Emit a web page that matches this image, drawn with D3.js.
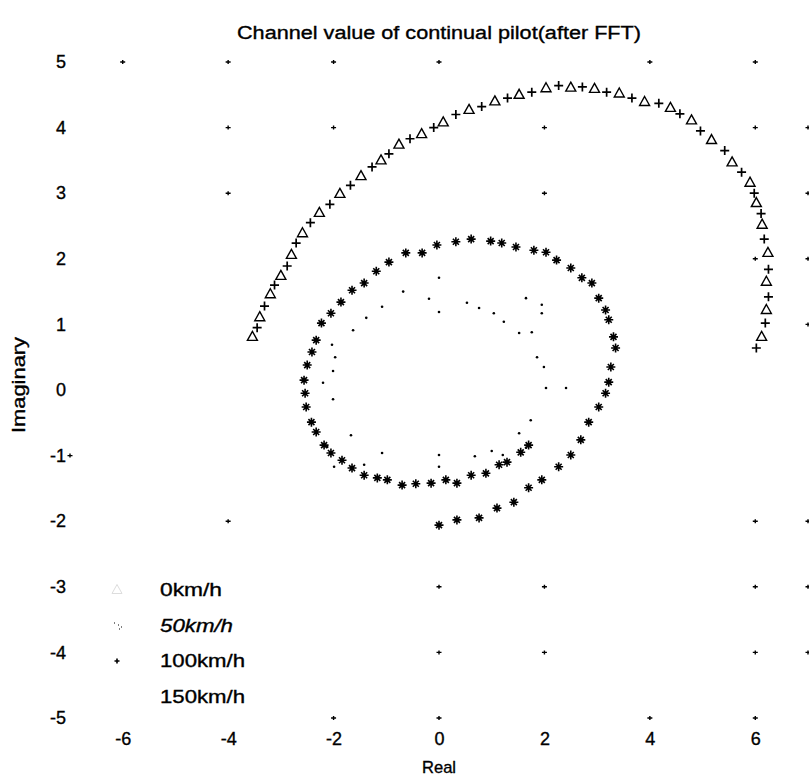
<!DOCTYPE html>
<html><head><meta charset="utf-8">
<script src="https://cdn.jsdelivr.net/npm/d3@7"></script>
<style>
body{margin:0;background:#fff;}
svg text{font-family:"Liberation Sans",Arial,sans-serif;fill:#000;stroke:#000;stroke-width:0.35px;}
</style></head><body>
<svg id="c" width="809" height="776"></svg>
<script>
const chartTitle = "Channel value of continual pilot(after FFT)";
const xLabel = "Real", yLabel = "Imaginary";
const xTicks = [-6,-4,-2,0,2,4,6];
const yTicks = [-5,-4,-3,-2,-1,0,1,2,3,4,5];
const seriesNames = ["0km/h","50km/h","100km/h","150km/h"];

// 0km/h (triangle markers)
const re0 = [-3.54,-3.40,-3.20,-3.00,-2.80,-2.59,-2.27,-1.88,-1.48,-1.10,-0.76,-0.33,0.08,0.57,1.06,1.52,2.03,2.50,2.95,3.42,3.90,4.39,4.79,5.17,5.56,5.90,6.02,6.13,6.24,6.21,6.21,6.12];
const im0 = [0.81,1.11,1.46,1.74,2.06,2.39,2.70,2.99,3.26,3.50,3.74,3.90,4.08,4.27,4.40,4.50,4.60,4.61,4.59,4.52,4.39,4.30,4.11,3.81,3.47,3.16,2.85,2.52,2.09,1.65,1.22,0.81];
// 50km/h
const re50 = [-3.45,-3.31,-3.12,-2.88,-2.71,-2.44,-2.07,-1.68,-1.27,-0.95,-0.55,-0.10,0.32,0.81,1.30,1.76,2.27,2.72,3.18,3.66,4.17,4.57,4.96,5.42,5.74,5.98,6.11,6.17,6.25,6.25,6.19,6.02];
const im50 = [0.95,1.28,1.60,1.89,2.24,2.55,2.83,3.12,3.40,3.60,3.83,4.00,4.20,4.32,4.45,4.54,4.64,4.62,4.54,4.45,4.37,4.21,3.95,3.65,3.32,3.00,2.69,2.30,1.84,1.42,1.02,0.64];
// 100km/h
const re100 = [0.00,0.34,0.76,1.10,1.42,1.70,1.95,2.27,2.50,2.69,2.84,3.03,3.16,3.22,3.26,3.35,3.31,3.22,3.16,3.03,2.90,2.71,2.50,2.23,2.03,1.80,1.46,1.19,0.98,0.61,0.32,-0.04,-0.32,-0.63,-0.95,-1.19,-1.42,-1.65,-1.86,-2.05,-2.23,-2.33,-2.41,-2.50,-2.56,-2.54,-2.52,-2.42,-2.33,-2.18,-2.05,-1.84,-1.65,-1.42,-1.17,-0.98,-0.70,-0.44,-0.15,0.13,0.34,0.61,0.89,1.14,1.29,1.55,1.70];
const im100 = [-2.06,-1.98,-1.95,-1.80,-1.71,-1.49,-1.37,-1.17,-0.99,-0.76,-0.49,-0.26,-0.05,0.12,0.35,0.64,0.81,1.07,1.22,1.40,1.63,1.71,1.86,1.98,2.10,2.13,2.18,2.24,2.27,2.30,2.26,2.21,2.09,2.09,1.95,1.81,1.63,1.52,1.34,1.17,1.02,0.76,0.58,0.38,0.15,-0.05,-0.26,-0.49,-0.64,-0.84,-0.96,-1.07,-1.19,-1.30,-1.34,-1.37,-1.45,-1.43,-1.42,-1.37,-1.42,-1.30,-1.27,-1.14,-1.10,-0.95,-0.84];
// 150km/h
const re150 = [0.00,0.00,0.53,0.76,1.04,1.23,1.52,1.65,1.95,1.95,1.76,1.86,1.99,2.03,2.41,1.74,1.52,1.65,1.21,1.00,0.68,0.00,0.00,-1.08,-1.42,-1.99,-2.12,-1.67,-2.01,-2.20,-2.01,-1.97,-2.03,-1.63,-1.38,-1.08,-0.68,-0.19];
const im150 = [1.71,1.19,1.33,1.25,1.17,1.04,0.87,1.40,1.30,1.17,0.88,0.50,0.35,0.03,0.03,-0.46,-0.66,-0.88,-0.99,-0.93,-1.01,-0.99,-1.17,-0.96,-1.14,-1.17,-0.87,-0.69,-0.14,0.11,0.29,0.50,0.69,0.91,1.10,1.27,1.50,1.39];

// visible grid intersection dots
const gridX = [-6,-4,-2,0,4,6, -4,-2,2,6,7, -4,2,7, 6,7, 7, -7, -4,6,7, 0,2,6,7, 0,2,6,7, -2,0,4,6];
const gridY = [5,5,5,5,5,5, 4,4,4,4,4, 3,3,3, 2,2, 1, -1, -2,-2,-2, -3,-3,-3,-3, -4,-4,-4,-4, -5,-5,-5,-5];

const svg = d3.select("#c");
const x = d3.scaleLinear().domain([-7,7]).range([70,808]);
const y = d3.scaleLinear().domain([-5,5]).range([718,62]);

// grid dots
const gd = gridX.map((v,i)=>[v,gridY[i]]);
svg.append("g").selectAll("path").data(gd).join("path")
  .attr("d", d=>`M${x(d[0])-2.5},${y(d[1])}h5M${x(d[0])},${y(d[1])-2}v4`)
  .attr("stroke","#000").attr("stroke-width",1.4).attr("fill","none");

// axes (labels only)
const fmt = d => String(d);
const xa = svg.append("g").attr("transform","translate(0,724)")
  .call(d3.axisBottom(x).tickValues(xTicks).tickSize(0).tickPadding(8).tickFormat(fmt));
const ya = svg.append("g").attr("transform","translate(66,0)")
  .call(d3.axisLeft(y).tickValues(yTicks).tickSize(0).tickPadding(0).tickFormat(fmt));
[xa,ya].forEach(a=>{a.select(".domain").remove();
  a.selectAll("text").style("font-family","Liberation Sans, Arial, sans-serif").style("font-size","18px").attr("fill","#000");});

// marker symbols
const mk = {
  tri: (cx,cy)=>`M${cx},${cy-5.5}L${cx+5},${cy+3.5}L${cx-5},${cy+3.5}Z`,
  plus: (cx,cy)=>`M${cx-4.5},${cy}h9M${cx},${cy-4.5}v9`,
  star: (cx,cy)=>`M${cx-4.5},${cy}h9M${cx},${cy-4.5}v9M${cx-3},${cy-3}l6,6M${cx-3},${cy+3}l6,-6`
};
function drawSeries(re, im, shape, sw){
  svg.append("g").selectAll("path").data(re.map((v,i)=>[v,im[i]])).join("path")
    .attr("d", d=>mk[shape](x(d[0]),y(d[1])))
    .attr("fill","none").attr("stroke","#000").attr("stroke-width",sw);
}
drawSeries(re0, im0, "tri", 1.4);
drawSeries(re50, im50, "plus", 1.7);
drawSeries(re100, im100, "star", 1.6);
svg.append("g").selectAll("circle").data(re150.map((v,i)=>[v,im150[i]])).join("circle")
  .attr("cx",d=>x(d[0])).attr("cy",d=>y(d[1])).attr("r",1.3).attr("fill","#000");

// title & labels
svg.append("text").attr("x",439).attr("y",39).attr("text-anchor","middle")
  .attr("font-size",18).attr("textLength",404).attr("lengthAdjust","spacingAndGlyphs").text(chartTitle);
svg.append("text").attr("x",x(0)).attr("y",773).attr("text-anchor","middle")
  .attr("font-size",17).attr("textLength",34).attr("lengthAdjust","spacingAndGlyphs").text(xLabel);
svg.append("text").attr("transform",`translate(25,${y(0)-5}) rotate(-90)`).attr("text-anchor","middle")
  .attr("font-size",19).attr("textLength",96).attr("lengthAdjust","spacingAndGlyphs").text(yLabel);

// legend
const legY = [590,626,661,697];
const legW = [62,73,85,85];
const lg = svg.append("g");
seriesNames.forEach((n,i)=>{
  lg.append("text").attr("x",160).attr("y",legY[i]+6).attr("font-size",18)
    .attr("textLength",legW[i]).attr("lengthAdjust","spacingAndGlyphs")
    .style("font-style", i===1?"italic":"normal").text(n);
});
lg.append("path").attr("d",mk.tri(117,legY[0])).attr("fill","none").attr("stroke","#ddd").attr("stroke-width",1);
lg.append("path").attr("d",`M114,${legY[1]-3}h1M118,${legY[1]-1}h1M121,${legY[1]+1}h1M119,${legY[1]+3}h1`).attr("stroke","#000").attr("stroke-width",1.2);
lg.append("path").attr("d",`M114.5,${legY[2]}h5M117,${legY[2]-2.5}v5`).attr("stroke","#000").attr("stroke-width",1.6);
</script></body></html>
